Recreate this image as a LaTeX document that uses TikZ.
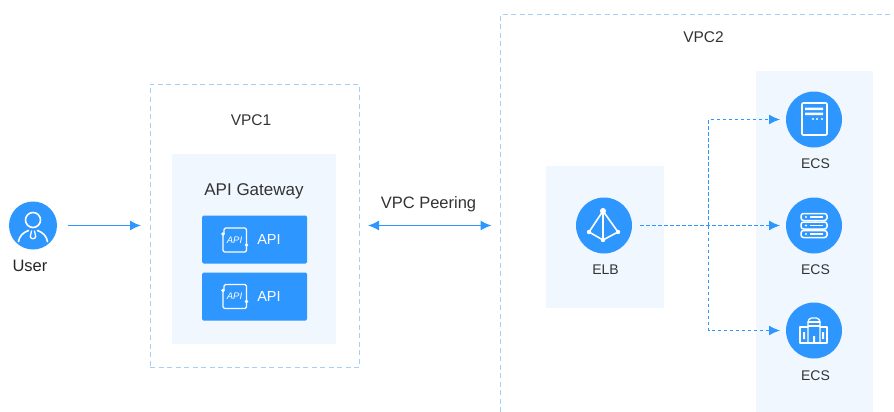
\documentclass[tikz,border=0pt]{standalone}
\usepackage{fontspec}
\setmainfont{Liberation Sans}
\usetikzlibrary{arrows.meta}
\definecolor{blu}{HTML}{2E96FF}
\definecolor{pale}{HTML}{F0F7FF}
\definecolor{dash}{HTML}{A6CFF7}
\definecolor{txt}{HTML}{333333}
\tikzset{
  x=1pt,y=-1pt,
  frame/.style={draw=dash,line width=1pt,dash pattern=on 5pt off 3.5pt},
  panel/.style={fill=pale,draw=none,inner sep=0pt,outer sep=0pt},
  disc/.style={circle,fill=blu,draw=none,inner sep=0pt,outer sep=0pt},
  lbl/.style={text=txt,font=\fontsize{14}{16}\selectfont,inner sep=0pt},
  lblw/.style={text=white,font=\fontsize{14}{16}\selectfont,inner sep=0pt},
  apibox/.style={fill=blu,rounded corners=1.5pt,minimum width=105pt,minimum height=48pt,inner sep=0pt,outer sep=0pt},
  flow/.style={draw=blu,line width=1.3pt,-{Latex[length=11pt,width=10pt]}},
  flowdash/.style={draw=blu,line width=1.2pt,dash pattern=on 3.5pt off 2.5pt,-{Latex[length=11pt,width=10pt]}},
  ico/.style={draw=white,line width=1.6pt,line join=round,line cap=round},
}
\begin{document}
\begin{tikzpicture}
\useasboundingbox (0,0) rectangle (894,412);
\fill[white] (0,0) rectangle (894,412);
% panels
\node[panel,minimum width=164pt,minimum height=190pt] (gw) at (254,249) {};
\node[panel,minimum width=118pt,minimum height=142pt] (elbp) at (604.5,237) {};
\node[panel,minimum width=117pt,minimum height=341pt] (ecsp) at (814.5,241.5) {};
% frames
\node[frame,minimum width=209pt,minimum height=283pt,inner sep=0pt,outer sep=0pt] (vpc1) at (254.5,225.5) {};
\draw[frame] (500.5,412) -- (500.5,14.5) -- (894,14.5);
\coordinate (vpc2w) at (500.5,225.5);
% labels
\node[lbl,font=\fontsize{15.5}{18}\selectfont] (t1) at (251,120) {VPC1};
\node[lbl,font=\fontsize{15.5}{18}\selectfont] (t2) at (703.5,37) {VPC2};
\node[lbl,font=\fontsize{17}{20}\selectfont] (t3) at (254,191) {API Gateway};
\node[lbl,font=\fontsize{16.5}{20}\selectfont] (t4) at (428.5,204) {VPC Peering};
% user
\node[disc,minimum size=48pt] (user) at (33,225.5) {};
\node[lbl,font=\fontsize{16.5}{20}\selectfont,text=black!85] (ulab) at (30,266) {User};
\draw[ico] (33,220) circle (7.5);
\draw[ico] (18.5,241.5) .. controls (19.5,236) and (23,232.5) .. (28.5,230.5);
\draw[ico] (47.5,241.5) .. controls (46.5,236) and (43,232.5) .. (37.5,230.5);
\draw[ico,line width=1.3pt] (31.5,231) -- (30.3,236.5) .. controls (30.5,239.5) and (35.5,239.5) .. (35.7,236.5) -- (34.5,231);
% API
\node[apibox] (a1) at (254.5,239.5) {};
\node[apibox] (a2) at (254.5,296.5) {};
\node[lblw,font=\fontsize{14.5}{16}\selectfont] (a1t) at (269,240) {API};
\node[lblw,font=\fontsize{14.5}{16}\selectfont] (a2t) at (269,296.5) {API};
\foreach \yy in {240,296.5}{
  \begin{scope}[shift={(234.5,\yy)}]
    \draw[ico,line width=1.2pt,rounded corners=1.5pt] (-10.5,-6) -- (-10.5,-12) -- (12,-12) -- (12,5);
    \draw[ico,line width=1.2pt,rounded corners=1.5pt] (-11.5,-6) -- (-11.5,12) -- (12,12) -- (12,5);
    \fill[white] (-11.5,-6) circle (1.8) (12,5) circle (1.8);
    \node[text=white,font=\fontsize{9.5}{10}\selectfont\itshape,inner sep=0pt] at (0,0) {API};
  \end{scope}
}
% ELB
\node[disc,minimum size=56pt] (elb) at (604,225.5) {};
\node[lbl] (elbt) at (605.5,270) {ELB};
\begin{scope}[shift={(604,225)}]
  \draw[ico] (-1,-14) -- (-15,7) -- (-1,15) -- (14,7) -- cycle;
  \draw[ico] (-1,-14) -- (-1,15);
  \fill[white] (-1,-14) circle (3);
  \foreach \p in {(-15,7),(-1,15),(14,7)} \fill[white] \p circle (2.2);
\end{scope}
% ECS
\node[disc,minimum size=56pt] (e1) at (814,119.5) {};
\node[disc,minimum size=56pt] (e2) at (814,225.5) {};
\node[disc,minimum size=56pt] (e3) at (814,330.5) {};
\node[lbl] (e1t) at (815.5,164) {ECS};
\node[lbl] (e2t) at (815.5,270) {ECS};
\node[lbl] (e3t) at (815.5,375.5) {ECS};
\begin{scope}[shift={(814,120)}]
  \draw[ico,rounded corners=1pt] (-12,-17) rectangle (13,15);
  \fill[white] (-9,-12.5) rectangle (9,-10) (-9,-7.5) rectangle (9,-5);
  \foreach \xx in {-1,3,8} \fill[white] (\xx,-1) circle (1.2);
\end{scope}
\begin{scope}[shift={(814,225)}]
  \foreach \yy in {-8,0.5,9}{
    \draw[ico,rounded corners=2.5pt,line width=1.5pt] (-13,\yy-3.5) rectangle (13,\yy+3.5);
    \fill[white] (-8,\yy) circle (1.1);
    \fill[white] (-4,\yy-0.8) rectangle (9,\yy+0.8);
  }
\end{scope}
\begin{scope}[shift={(814,330)}]
  \draw[ico,line width=1.3pt,rounded corners=1.5pt] (-6,13) -- (-6,-9) -- (-4,-12) -- (4,-12) -- (6,-9) -- (6,13);
  \draw[ico,line width=1.3pt] (-6,-8) -- (6,-8) (-6,-4) -- (6,-4);
  \draw[ico,line width=1.3pt] (-6,-3) -- (-14,-3) -- (-14,13) -- (13,13) -- (13,-3) -- (6,-3);
  \fill[white] (-11,2) rectangle (-9,9) (8,2) rectangle (10,9) (-1,6) rectangle (1,12);
\end{scope}
% connectors
\draw[flow,shorten <=11pt,shorten >=9pt] (user.east) -- (user.east -| vpc1.west);
\draw[draw=blu,line width=1.3pt,{Latex[length=11pt,width=10pt]}-{Latex[length=11pt,width=10pt]},shorten <=9pt,shorten >=9pt] (vpc1.east) -- (vpc2w);
\coordinate (branch) at (708.5,225.5);
\draw[flowdash,shorten <=8pt,shorten >=6pt] (elb.east) -- (e2.west);
\draw[flowdash,shorten >=6pt] (branch) |- (e1.west);
\draw[flowdash,shorten >=6pt] (branch) |- (e3.west);
\end{tikzpicture}
\end{document}
